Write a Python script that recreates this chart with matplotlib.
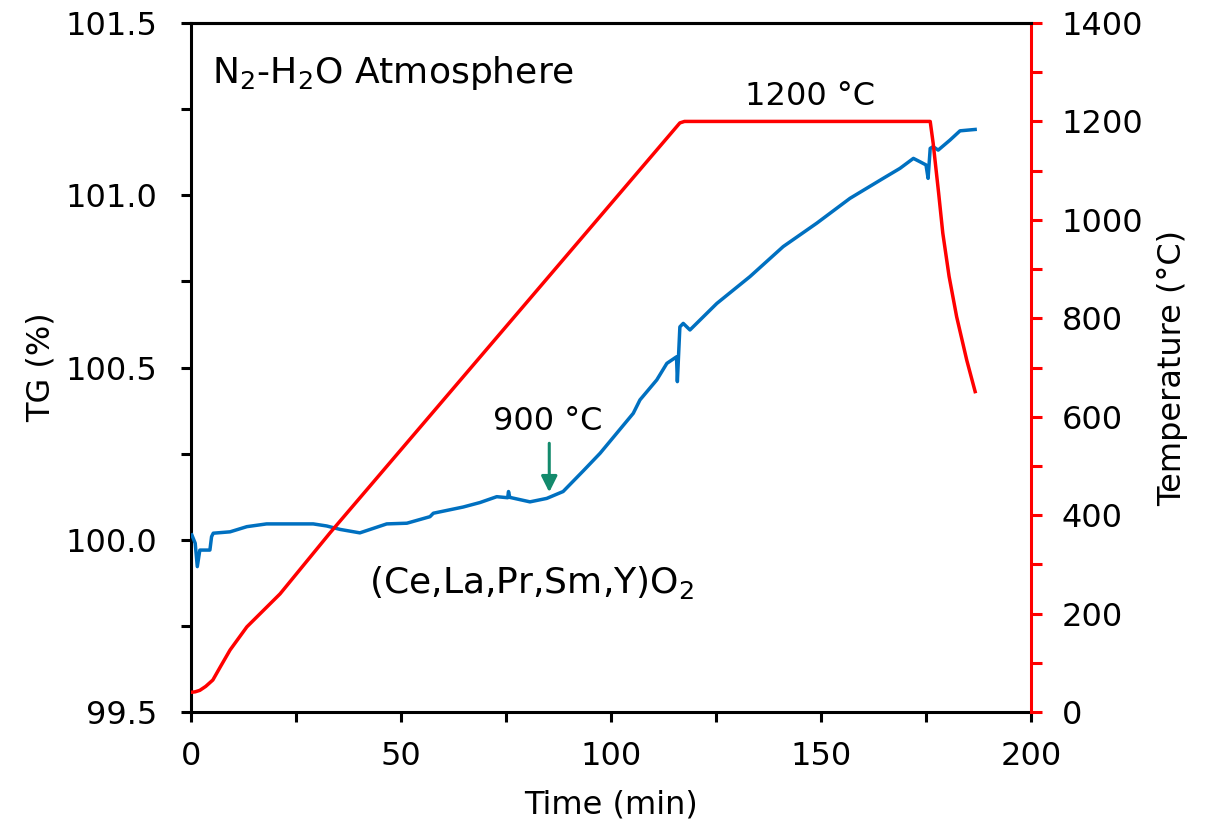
import matplotlib
matplotlib.use('Agg')
import matplotlib.pyplot as plt
from matplotlib.ticker import MultipleLocator

# TG curve (time in min, TG in %)
tg_time = [0.2, 1.0, 1.5, 2.1, 3.7, 4.5, 4.9, 5.3, 9.3, 13.3, 18.0, 29.1, 32.3, 35.5,
           40.2, 43.4, 46.6, 51.4, 56.9, 57.7, 64.8, 68.8, 72.8, 75.4, 75.6, 75.9,
           80.7, 84.7, 88.6, 93.4, 97.4, 105.3, 106.9, 110.9, 113.3, 115.6, 115.8,
           116.4, 117.2, 118.8, 125.2, 133.1, 141.0, 149.0, 156.9, 164.8, 168.8,
           172.0, 173.6, 175.0, 175.5, 176.0, 176.7, 177.9, 180.7, 183.1, 186.7]
tg_vals = [100.014, 99.99, 99.922, 99.97, 99.97, 99.97, 100.009, 100.019, 100.023,
           100.038, 100.046, 100.046, 100.04, 100.03, 100.02, 100.033, 100.046,
           100.048, 100.067, 100.077, 100.095, 100.108, 100.125, 100.122, 100.14,
           100.123, 100.11, 100.12, 100.14, 100.20, 100.251, 100.367, 100.406,
           100.464, 100.512, 100.531, 100.459, 100.618, 100.628, 100.609, 100.686,
           100.764, 100.851, 100.919, 100.991, 101.049, 101.078, 101.107, 101.097,
           101.088, 101.049, 101.136, 101.141, 101.131, 101.16, 101.187, 101.191]

# temperature program (time in min, T in degC)
temp_time = [0, 1.0, 2.1, 3.5, 5.2, 7.0, 9.3, 13.3, 21.2, 33.1, 116.4, 117.5, 176.0,
             176.7, 178.0, 179.0, 180.5, 182.3, 184.7, 186.7]
temp_vals = [40, 41, 44, 52, 65, 92, 126, 173, 240, 364, 1197, 1200, 1200,
             1156, 1055, 973, 885, 803, 715, 651]

blue = '#0070C0'
red = '#FF0000'
green = '#138A6C'
fs = 23
fs_big = 26

plt.rcParams['font.family'] = 'DejaVu Sans'
plt.rcParams['mathtext.fontset'] = 'dejavusans'

fig = plt.figure(figsize=(12.11, 8.3), dpi=100)
ax = fig.add_axes([191/1211, 1 - 712/830, 840/1211, 689/830])
ax2 = ax.twinx()

ax.plot(tg_time, tg_vals, color=blue, lw=2.5, zorder=3)
ax2.plot(temp_time, temp_vals, color=red, lw=2.5, zorder=2)

ax.set_xlim(0, 200)
ax.set_ylim(99.5, 101.5)
ax2.set_ylim(0, 1400)

ax.xaxis.set_major_locator(MultipleLocator(50))
ax.xaxis.set_minor_locator(MultipleLocator(25))
ax.yaxis.set_major_locator(MultipleLocator(0.5))
ax.yaxis.set_minor_locator(MultipleLocator(0.25))
ax.yaxis.set_major_formatter(plt.FormatStrFormatter('%.1f'))
ax2.yaxis.set_major_locator(MultipleLocator(200))
ax2.yaxis.set_minor_locator(MultipleLocator(100))

for a in (ax, ax2):
    for s in a.spines.values():
        s.set_linewidth(2.2)
ax2.spines['right'].set_color(red)
ax2.spines['left'].set_visible(False)
ax2.spines['bottom'].set_visible(False)
ax.spines['right'].set_visible(False)

ax.tick_params(axis='x', which='both', direction='out', length=7, width=2.2,
               labelsize=fs, pad=14)
ax.tick_params(axis='y', which='both', direction='out', length=7, width=2.2,
               labelsize=fs, pad=17)
ax2.tick_params(axis='y', which='both', direction='out', length=8, width=2.2,
                color=red, labelsize=fs, pad=14)

ax.set_xlabel('Time (min)', fontsize=fs)
ax.set_ylabel('TG (%)', fontsize=fs)
ax2.set_ylabel('Temperature (\u00b0C)', fontsize=fs)
ax.xaxis.set_label_coords(0.5, -0.113)
ax.yaxis.set_label_coords(-0.16, 0.5)
ax2.yaxis.set_label_coords(1.15, 0.5)

ax.text(5, 101.326, 'N$_2$-H$_2$O Atmosphere', fontsize=fs_big, ha='left', va='baseline')
ax2.text(147.4, 1250, '1200 \u00b0C', fontsize=fs, ha='center', va='center')
ax.text(85, 100.342, '900 \u00b0C', fontsize=fs, ha='center', va='center')
ax.text(81, 99.845, '(Ce,La,Pr,Sm,Y)O$_2$', fontsize=fs_big, ha='center', va='baseline')
ax.annotate('', xy=(85.3, 100.138), xytext=(85.3, 100.28),
            arrowprops=dict(arrowstyle='-|>', color=green, lw=2.2, mutation_scale=24,
                            shrinkA=0, shrinkB=0))

fig.savefig('out.png', dpi=100)
